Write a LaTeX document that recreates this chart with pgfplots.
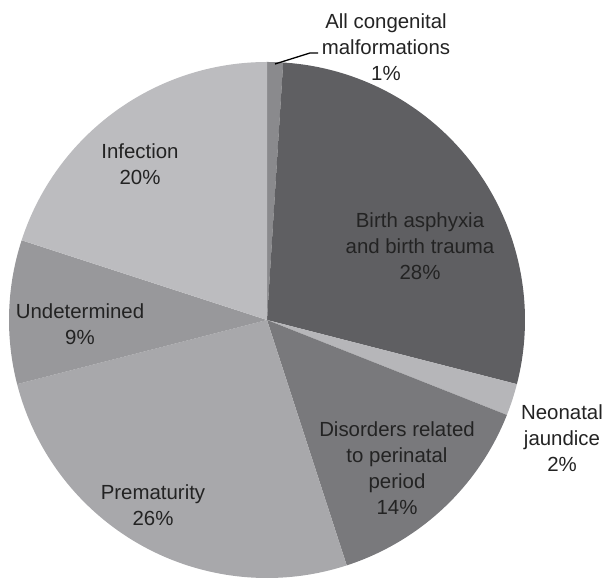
\documentclass[border=0pt]{standalone}
\usepackage{pgfplots}
\usepackage{pgfplotstable}
\pgfplotsset{compat=1.18}
\usepackage{fontspec}
\setmainfont{Liberation Sans}
\definecolor{c1}{RGB}{95,95,98}
\definecolor{c2}{RGB}{182,182,185}
\definecolor{c3}{RGB}{121,121,124}
\definecolor{c4}{RGB}{168,168,171}
\definecolor{c5}{RGB}{152,152,155}
\definecolor{c6}{RGB}{188,188,191}
\definecolor{c7}{RGB}{138,138,141}
\definecolor{txt}{RGB}{35,35,35}
\pgfplotstableread[col sep=comma]{
name,value,color
All congenital malformations,1,c7
Birth asphyxia and birth trauma,28,c1
Neonatal jaundice,2,c2
Disorders related to perinatal period,14,c3
Prematurity,26,c4
Undetermined,9,c5
Infection,20,c6
}\piedata
\begin{document}
\begin{tikzpicture}
\begin{axis}[x=1bp,y=1bp,xmin=0,xmax=606,ymin=0,ymax=582,
  axis lines=none,clip=false,scale only axis]
\def\cum{0}
\pgfplotsforeachungrouped \i in {0,...,6}{
  \pgfplotstablegetelem{\i}{value}\of\piedata \let\sliceval\pgfplotsretval
  \pgfplotstablegetelem{\i}{color}\of\piedata \let\slicecol\pgfplotsretval
  \pgfmathsetmacro\sa{90-3.6*\cum}
  \pgfmathsetmacro\ea{90-3.6*(\cum+\sliceval)}
  \edef\temp{\noexpand\fill[\slicecol] (axis cs:267,262) -- ++(\sa:258bp) arc[start angle=\sa, end angle=\ea, radius=258bp] -- cycle;}
  \temp
  \pgfmathsetmacro\cum{\cum+\sliceval}
}
\draw[line width=1.3pt,black] (axis cs:275,518) -- (axis cs:310,529) -- (axis cs:318,529);
\tikzset{lab/.style={align=center,text=txt,inner sep=0pt,font=\fontsize{20.5}{26}\selectfont}}
\node[lab] at (axis cs:386,534.5) {All congenital\\malformations\\1\%};
\node[lab] at (axis cs:140,418) {Infection\\20\%};
\node[lab] at (axis cs:420,335.5) {Birth asphyxia\\and birth trauma\\28\%};
\node[lab] at (axis cs:80,258) {Undetermined\\9\%};
\node[lab] at (axis cs:562,144) {Neonatal\\jaundice\\2\%};
\node[lab] at (axis cs:397,113.5) {Disorders related\\to perinatal\\period\\14\%};
\node[lab] at (axis cs:153,76.5) {Prematurity\\26\%};
\end{axis}
\pgfresetboundingbox
\path (current axis.south west) rectangle (current axis.north east);
\end{tikzpicture}
\end{document}
